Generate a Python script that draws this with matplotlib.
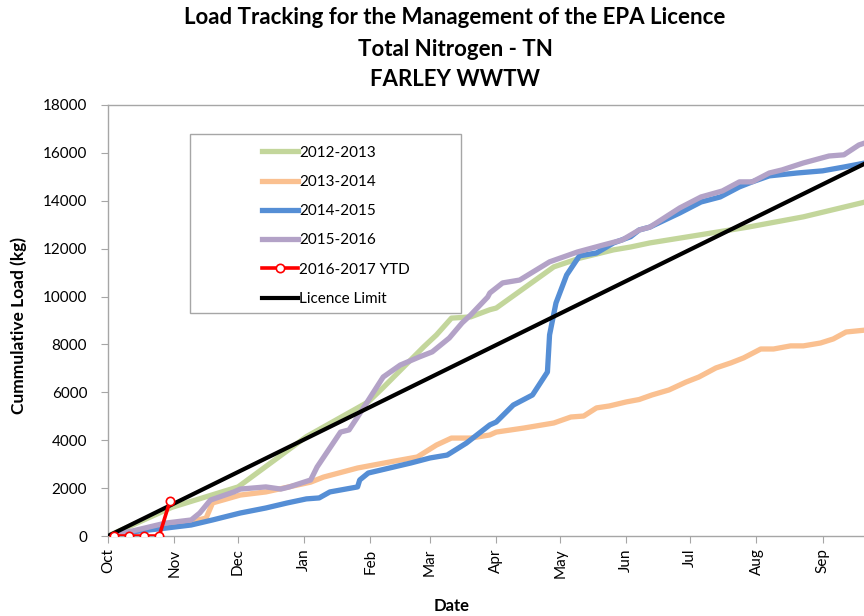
import numpy as np
import matplotlib; matplotlib.use("Agg")
import matplotlib.pyplot as plt
from matplotlib.patches import Rectangle

plt.rcParams["font.family"] = ["Lato", "DejaVu Sans"]
INK, AXC = "#000000", "#a6a6a6"

MONTHS = ["Oct", "Nov", "Dec", "Jan", "Feb", "Mar", "Apr", "May", "Jun", "Jul", "Aug", "Sep"]
MONTH_DAY = [0, 31, 61, 92, 123, 151, 182, 212, 243, 273, 304, 335]

# days since 1 Oct, cumulative kg
g_day = [0, 30, 61, 93, 122, 129, 148, 154, 161, 170, 179, 182, 209, 221, 237, 245, 254, 300, 326, 355]
g_kg = [0, 1200, 2050, 4150, 5600, 6200, 7900, 8400, 9100, 9150, 9450, 9520, 11240, 11600, 11950, 12070, 12240, 12900, 13330, 13950]

o_day = [0, 11, 27, 39, 46, 49, 62, 74, 95, 101, 117, 132, 145, 154, 161, 170, 179, 182, 195, 209, 217, 223,
         229, 235, 243, 249, 255, 263, 271, 277, 285, 292, 298, 306, 312, 320, 326, 334, 340, 346, 355]
o_kg = [0, 150, 450, 600, 750, 1380, 1710, 1840, 2250, 2460, 2840, 3090, 3300, 3800, 4090, 4090, 4220, 4340, 4510,
        4720, 4970, 5010, 5350, 5430, 5600, 5700, 5890, 6100, 6430, 6640, 7020, 7230, 7440, 7810, 7810, 7940, 7940,
        8060, 8230, 8520, 8600]

b_day = [0, 11, 27, 39, 49, 62, 74, 84, 93, 99, 104, 117, 118, 122, 132, 142, 151, 159, 168, 179, 182, 190, 199,
         206, 207, 210, 215, 221, 229, 237, 245, 249, 254, 258, 268, 278, 287, 296, 302, 310, 323, 335, 345, 355]
b_kg = [0, 170, 330, 460, 670, 960, 1170, 1380, 1550, 1590, 1840, 2050, 2340, 2630, 2840, 3050, 3260, 3380, 3880,
        4640, 4760, 5470, 5890, 6850, 8400, 9730, 10900, 11700, 11820, 12240, 12500, 12780, 12900, 13070, 13490,
        13950, 14160, 14580, 14790, 15040, 15160, 15250, 15410, 15580]

p_day = [0, 11, 27, 39, 43, 48, 59, 62, 74, 81, 85, 95, 98, 109, 113, 117, 129, 137, 146, 152, 160, 166, 170, 178,
         179, 185, 193, 207, 220, 232, 241, 249, 254, 257, 268, 278, 288, 296, 302, 310, 316, 326, 338, 345, 352, 355]
p_kg = [0, 200, 540, 670, 960, 1500, 1840, 1960, 2050, 1960, 2050, 2340, 2880, 4340, 4430, 4970, 6640, 7140, 7480,
        7690, 8270, 8900, 9230, 9980, 10150, 10570, 10690, 11450, 11860, 12150, 12360, 12780, 12900, 13070, 13700,
        14160, 14410, 14790, 14790, 15160, 15290, 15580, 15870, 15920, 16330, 16420]

r_day = [3, 10, 17, 24, 29]
r_kg = [0, 0, 0, 0, 1450]

lim_day = [0, 365]
lim_kg = [0, 16000]

fig = plt.figure(figsize=(8.64, 6.16), dpi=100); fig.patch.set_facecolor("white")
ax = fig.add_axes([108/864, 1-536/616, 1-108/864, (536-105)/616])

ax.plot(g_day, g_kg, color="#c3d69b", lw=3.8, label="2012-2013", solid_joinstyle="round")
ax.plot(o_day, o_kg, color="#fac090", lw=3.8, label="2013-2014", solid_joinstyle="round")
ax.plot(b_day, b_kg, color="#558ed5", lw=3.8, label="2014-2015", solid_joinstyle="round")
ax.plot(p_day, p_kg, color="#b3a2c7", lw=3.8, label="2015-2016", solid_joinstyle="round")
ax.plot(lim_day, lim_kg, color="black", lw=3.0, label="Licence Limit", zorder=3)
ax.plot(r_day, r_kg, color="#ff0000", lw=2.6, marker="o", ms=6, mfc="white", mec="#ff0000", mew=1.2,
        label="2016-2017 YTD", zorder=4)

ax.set_xlim(0, 354.4); ax.set_ylim(0, 18000)
ax.set_yticks(range(0, 18001, 2000))
ax.set_xticks(MONTH_DAY); ax.set_xticklabels(MONTHS, rotation=90, fontsize=11)
ax.tick_params(axis="y", labelsize=11, length=5, color=AXC, pad=10)
ax.tick_params(axis="x", length=5, color=AXC, pad=4)
ax.spines["right"].set_visible(False)
for s in ["left", "bottom", "top"]:
    ax.spines[s].set_color(AXC); ax.spines[s].set_linewidth(1.0)

fig.text(19/864, 1-325/616, "Cummulative Load (kg)", fontsize=12.5, fontweight="bold", rotation=90,
         ha="center", va="center")
fig.text(452/864, 1-606/616, "Date", fontsize=12, fontweight="bold", ha="center", va="center")

for txt, y in [("Load Tracking for the Management of the EPA Licence", 18), ("Total Nitrogen - TN", 49), ("FARLEY WWTW", 80)]:
    fig.text(455/864, 1-y/616, txt, fontsize=16, fontweight="bold", ha="center", va="center")

fig.patches.append(Rectangle((190/864, 1-313/616), 271/864, 179/616, transform=fig.transFigure,
                             fill=False, edgecolor=AXC, lw=1.0))
h, l = ax.get_legend_handles_labels()
order = [0, 1, 2, 3, 5, 4]
leg = ax.legend([h[i] for i in order], [l[i] for i in order], loc="upper left", frameon=False,
                bbox_to_anchor=(254/864, 1-138/616), bbox_transform=fig.transFigure,
                fontsize=11, handlelength=2.35, handletextpad=0.1, labelspacing=1.0, borderpad=0)

fig.savefig("out.png", facecolor="white")
